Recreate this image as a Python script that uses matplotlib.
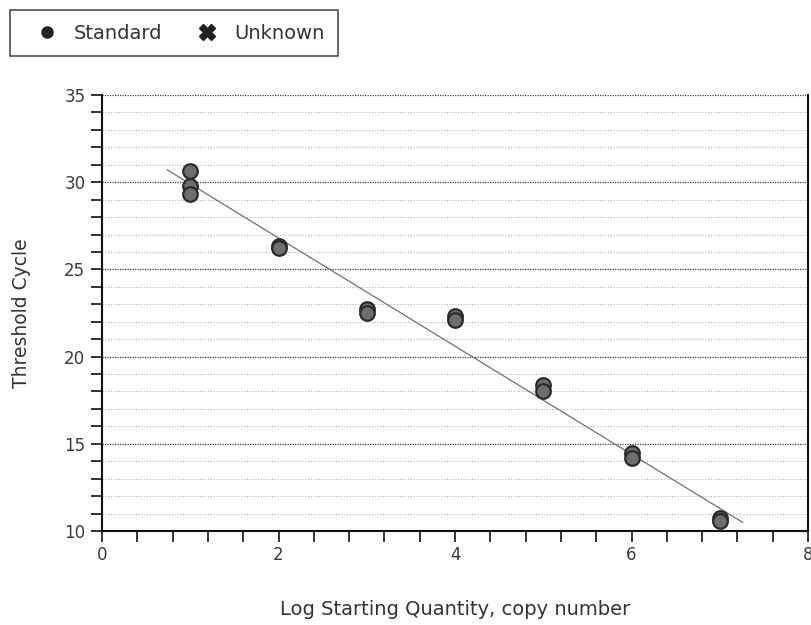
import numpy as np
import matplotlib
matplotlib.use("Agg")
import matplotlib.pyplot as plt
from matplotlib.lines import Line2D
from matplotlib.ticker import MultipleLocator

plt.rcParams['font.family'] = ['DejaVu Sans']

# Standard curve replicates: log starting quantity vs threshold cycle
log_quantity = [1, 1, 1, 2, 2, 3, 3, 4, 4, 5, 5, 6, 6, 7, 7]
threshold_cycle = [30.65, 29.8, 29.3, 26.35, 26.25, 22.75, 22.5,
                   22.3, 22.1, 18.4, 18.05, 14.5, 14.2, 10.75, 10.6]

# Regression line of the standard curve
fit_slope = -3.10
fit_intercept = 33.0
fit_x_range = [0.74, 7.26]

fig = plt.figure(figsize=(8.11, 6.25), dpi=100)
ax = fig.add_axes([0.1258, 0.1504, 0.8705, 0.6976])

ax.set_xlim(0, 8)
ax.set_ylim(10, 35)

# Grid: light dotted each cycle, darker dotted every 5 cycles
ax.yaxis.set_major_locator(MultipleLocator(5))
ax.yaxis.set_minor_locator(MultipleLocator(1))
ax.xaxis.set_major_locator(MultipleLocator(2))
ax.xaxis.set_minor_locator(MultipleLocator(0.4))
ax.grid(axis='y', which='minor', linestyle=(0, (1, 1.5)), color='#b0b0b0', linewidth=0.8)
ax.grid(axis='y', which='major', linestyle=(0, (1, 1)), color='#404040', linewidth=0.9)
ax.set_axisbelow(True)

fx = np.array(fit_x_range)
ax.plot(fx, fit_intercept + fit_slope * fx, color='#707070', linewidth=0.9, zorder=2)

ax.scatter(log_quantity, threshold_cycle, s=110, facecolor='#6e6e6e',
           edgecolor='#2a2a2a', linewidth=1.6, zorder=3)

ax.spines['top'].set_visible(False)
for side in ['left', 'bottom', 'right']:
    ax.spines[side].set_linewidth(1.5)
    ax.spines[side].set_color('#111111')

ax.tick_params(axis='both', which='both', direction='out', length=8, width=1.2,
               color='#111111', labelsize=12, labelcolor='#3a3a3a')
ax.tick_params(axis='x', pad=3)
ax.tick_params(axis='y', pad=4)

ax.set_xlabel('Log Starting Quantity, copy number', fontsize=14, color='#333333', labelpad=26)
ax.set_ylabel('Threshold Cycle', fontsize=13.5, color='#333333', labelpad=24)

handles = [
    Line2D([], [], marker='o', linestyle='none', markersize=8,
           markerfacecolor='#222222', markeredgecolor='#222222', label='Standard'),
    Line2D([], [], marker='X', linestyle='none', markersize=12,
           markerfacecolor='#222222', markeredgecolor='#222222', label='Unknown'),
]
leg = fig.legend(handles=handles, loc='upper left', bbox_to_anchor=(0.012, 0.984),
                 ncol=2, frameon=True, fancybox=False, edgecolor='#222222',
                 fontsize=14, handletextpad=0.2, columnspacing=1.1,
                 borderpad=0.7, handlelength=2.4, borderaxespad=0)
leg.get_frame().set_linewidth(1.2)
for t in leg.get_texts():
    t.set_color('#333333')

fig.savefig('out.png', dpi=100, facecolor='white')
